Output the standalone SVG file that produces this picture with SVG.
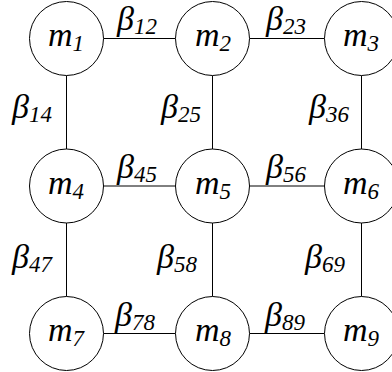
<svg xmlns="http://www.w3.org/2000/svg" width="392" height="372" viewBox="0 0 392 372">
<style>
.n{fill:#fff;stroke:#000;stroke-width:1}
.e{stroke:#000;stroke-width:1;fill:none}
.t{font-family:"Liberation Serif","Times New Roman",serif;font-style:italic;fill:#000}
.m{font-size:34px;text-anchor:middle}
.b{font-size:34px}
.s{font-size:23px}
</style>
<rect width="392" height="372" fill="#fff"/>
<g id="connectors">
<line class="e" x1="103.5" y1="38.5" x2="175.5" y2="38.5"/>
<line class="e" x1="249.5" y1="38.5" x2="324.5" y2="38.5"/>
<line class="e" x1="103.5" y1="186" x2="175.5" y2="186"/>
<line class="e" x1="249.5" y1="186" x2="324.5" y2="186"/>
<line class="e" x1="103.5" y1="333.5" x2="175.5" y2="333.5"/>
<line class="e" x1="249.5" y1="333.5" x2="324.5" y2="333.5"/>
<line class="e" x1="66.5" y1="75.5" x2="66.5" y2="149"/>
<line class="e" x1="212.5" y1="75.5" x2="212.5" y2="149"/>
<line class="e" x1="361.5" y1="75.5" x2="361.5" y2="149"/>
<line class="e" x1="66.5" y1="223" x2="66.5" y2="296.5"/>
<line class="e" x1="212.5" y1="223" x2="212.5" y2="296.5"/>
<line class="e" x1="361.5" y1="223" x2="361.5" y2="296.5"/>
<text class="t b" x="117" y="30">β<tspan class="s" dy="4">12</tspan></text>
<text class="t b" x="266" y="30">β<tspan class="s" dy="4">23</tspan></text>
<text class="t b" x="117" y="178">β<tspan class="s" dy="4">45</tspan></text>
<text class="t b" x="266" y="178">β<tspan class="s" dy="4">56</tspan></text>
<text class="t b" x="115" y="326">β<tspan class="s" dy="4">78</tspan></text>
<text class="t b" x="265" y="326">β<tspan class="s" dy="4">89</tspan></text>
<text class="t b" x="12" y="118">β<tspan class="s" dy="4">14</tspan></text>
<text class="t b" x="161" y="118">β<tspan class="s" dy="4">25</tspan></text>
<text class="t b" x="309" y="118">β<tspan class="s" dy="4">36</tspan></text>
<text class="t b" x="12" y="268">β<tspan class="s" dy="4">47</tspan></text>
<text class="t b" x="157" y="268">β<tspan class="s" dy="4">58</tspan></text>
<text class="t b" x="305" y="268">β<tspan class="s" dy="4">69</tspan></text>
</g>
<g id="m1"><circle class="n" cx="66.5" cy="38.5" r="37"/><text class="t m" x="66" y="46">m<tspan class="s" dy="5">1</tspan></text></g>
<g id="m2"><circle class="n" cx="212.5" cy="38.5" r="37"/><text class="t m" x="213" y="46">m<tspan class="s" dy="5">2</tspan></text></g>
<g id="m3"><circle class="n" cx="361.5" cy="38.5" r="37"/><text class="t m" x="361" y="46">m<tspan class="s" dy="5">3</tspan></text></g>
<g id="m4"><circle class="n" cx="66.5" cy="186" r="37"/><text class="t m" x="66" y="194">m<tspan class="s" dy="5">4</tspan></text></g>
<g id="m5"><circle class="n" cx="212.5" cy="186" r="37"/><text class="t m" x="213" y="194">m<tspan class="s" dy="5">5</tspan></text></g>
<g id="m6"><circle class="n" cx="361.5" cy="186" r="37"/><text class="t m" x="361" y="194">m<tspan class="s" dy="5">6</tspan></text></g>
<g id="m7"><circle class="n" cx="66.5" cy="333.5" r="37"/><text class="t m" x="66" y="341">m<tspan class="s" dy="5">7</tspan></text></g>
<g id="m8"><circle class="n" cx="212.5" cy="333.5" r="37"/><text class="t m" x="213" y="341">m<tspan class="s" dy="5">8</tspan></text></g>
<g id="m9"><circle class="n" cx="361.5" cy="333.5" r="37"/><text class="t m" x="361" y="341">m<tspan class="s" dy="5">9</tspan></text></g>
</svg>
